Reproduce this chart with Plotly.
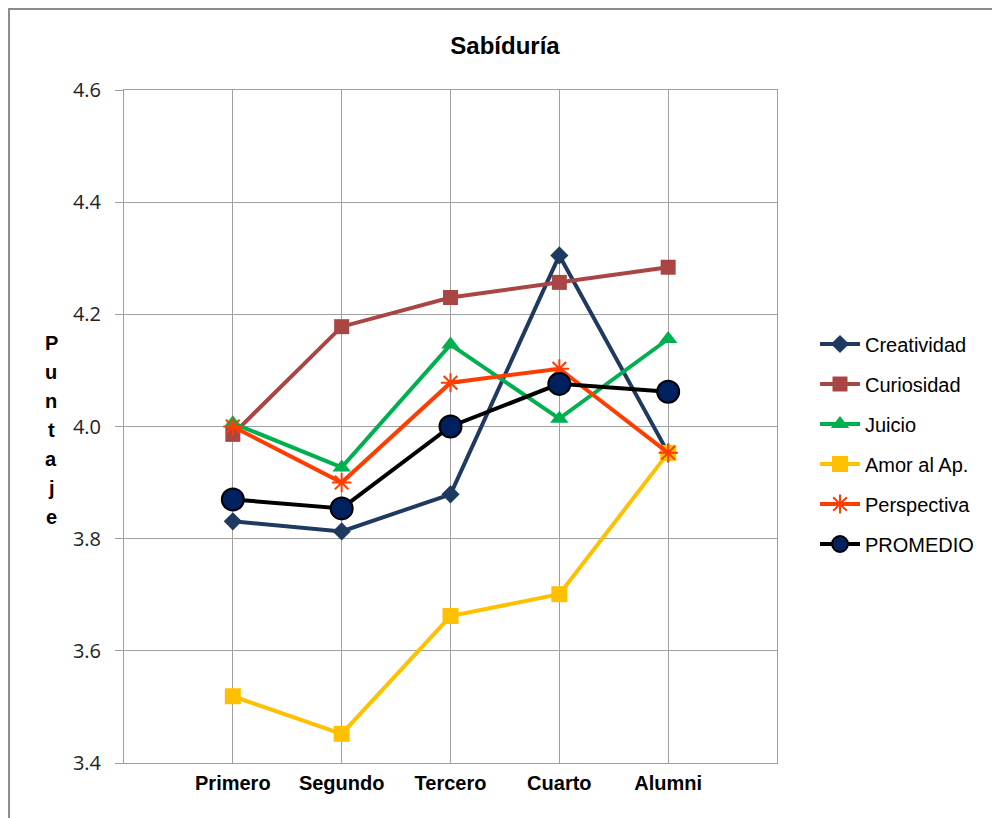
import plotly.graph_objects as go

# Categories and scores per strength
grupos = ["Primero", "Segundo", "Tercero", "Cuarto", "Alumni"]
creatividad = [3.831, 3.813, 3.879, 4.305, 3.953]
curiosidad = [3.986, 4.178, 4.230, 4.257, 4.284]
juicio = [4.006, 3.927, 4.146, 4.014, 4.156]
amor_al_ap = [3.519, 3.452, 3.662, 3.701, 3.953]
perspectiva = [4.000, 3.900, 4.078, 4.103, 3.953]
promedio = [3.870, 3.854, 4.000, 4.076, 4.062]
y_ticks = [3.4, 3.6, 3.8, 4.0, 4.2, 4.4, 4.6]

W, H = 992, 818
L, R, T, B = 124, 215, 90, 55
PW, PH = W - L - R, H - T - B

xpos = list(range(len(grupos)))

series = [
    ("Creatividad", creatividad, "#1F3A60", dict(symbol="diamond", size=14, color="#1F3A60")),
    ("Curiosidad", curiosidad, "#A94643", dict(symbol="square", size=15, color="#A94643")),
    ("Juicio", juicio, "#00B050", dict(symbol="triangle-up", size=16, color="#00B050")),
    ("Amor al Ap.", amor_al_ap, "#FFC000", dict(symbol="square", size=16, color="#FFC000")),
    ("Perspectiva", perspectiva, "#FF3D00",
     dict(symbol="asterisk-open", size=16, color="#FF3D00", line=dict(color="#FF3D00", width=2))),
    ("PROMEDIO", promedio, "#000000",
     dict(symbol="circle", size=22, color="#002060", line=dict(color="#000000", width=2))),
]

fig = go.Figure()
for i, (name, vals, col, mk) in enumerate(series):
    fig.add_trace(go.Scatter(
        x=xpos, y=vals, name=name, mode="lines+markers",
        line=dict(color=col, width=4), marker=mk,
        legendgroup=f"g{i}",
    ))

# Stacked vertical axis title
letters = list("Puntaje")
for k, ch in enumerate(letters):
    py = 343 + k * 29
    fig.add_annotation(
        text=f"<b>{ch}</b>", x=(51 - L) / PW, y=(H - B - py) / PH,
        xref="paper", yref="paper", showarrow=False,
        xanchor="center", yanchor="middle",
        font=dict(family="Liberation Sans, Arial", size=20, color="#000000"),
    )

# Outer chart border (left and top edges visible)
fig.add_shape(
    type="rect", xref="paper", yref="paper",
    x0=(9 - L) / PW, x1=(W + 20 - L) / PW,
    y0=(H - B - (H + 20)) / PH, y1=(H - B - 9) / PH,
    line=dict(color="#8C8C8C", width=2), fillcolor="rgba(0,0,0,0)", layer="below",
)

fig.update_layout(
    width=W, height=H,
    margin=dict(l=L, r=R, t=T, b=B),
    paper_bgcolor="white", plot_bgcolor="white",
    title=dict(text="<b>Sabíduría</b>", x=505 / W, xref="container", xanchor="center",
               y=1 - 46 / H, yref="container", yanchor="middle",
               font=dict(family="Liberation Sans, Arial", size=24, color="#000000")),
    xaxis=dict(
        range=[-1, 5], tickvals=xpos, ticktext=[f"<b>{g}</b>" for g in grupos],
        showgrid=True, gridcolor="#A0A0A0", gridwidth=1,
        showline=True, linecolor="#A0A0A0", linewidth=1, mirror=True,
        ticks="", zeroline=False, ticklabelstandoff=2,
        tickfont=dict(family="Liberation Sans, Arial", size=20, color="#000000"),
    ),
    yaxis=dict(
        range=[3.4, 4.6], tickvals=y_ticks, ticktext=[f"{v:.1f}" for v in y_ticks],
        showgrid=True, gridcolor="#A0A0A0", gridwidth=1,
        showline=True, linecolor="#A0A0A0", linewidth=1, mirror=True,
        ticks="outside", ticklen=8, tickcolor="#A0A0A0", zeroline=False,
        ticklabelstandoff=10,
        tickfont=dict(family="Open Sans, DejaVu Sans", size=20, color="#222222"),
    ),
    legend=dict(
        x=(815 - L) / PW, xanchor="left", y=(H - B - 444) / PH, yanchor="middle",
        font=dict(family="Liberation Sans, Arial", size=20, color="#000000"),
        tracegroupgap=11, bgcolor="rgba(0,0,0,0)", itemwidth=40,
    ),
    showlegend=True,
)

fig.write_html("out.html")
